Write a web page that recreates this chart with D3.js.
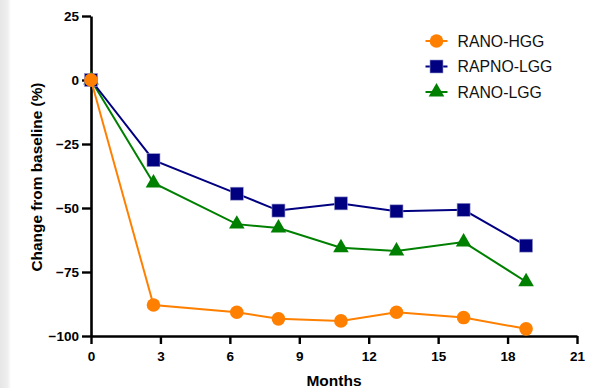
<!DOCTYPE html>
<html>
<head>
<meta charset="utf-8">
<script src="https://cdn.jsdelivr.net/npm/d3@7"></script>
<style>
body{margin:0;background:#fff;}
svg{display:block;font-family:"Liberation Sans",Arial,Helvetica,sans-serif;}
</style>
</head>
<body>
<div id="chart"></div>
<script>
let width=598, height=388;
let months=[0,2.7,6.3,8.1,10.8,13.2,16.1,18.8];
let hgg=[0,-87.9,-90.7,-93.3,-94.1,-90.7,-92.8,-97.2];
let rapno=[0,-31.3,-44.4,-51,-48.2,-51.3,-50.7,-64.7];
let lgg=[0,-40.2,-56.3,-57.8,-65.5,-66.8,-63.3,-78.8];
let seriesNames=["RANO-HGG","RAPNO-LGG","RANO-LGG"];
let xTicks=[0,3,6,9,12,15,18,21];
let yTicks=[25,0,-25,-50,-75,-100];

let series=[
 {name:seriesNames[2],vals:lgg,color:"#008000",shape:"tri"},
 {name:seriesNames[1],vals:rapno,color:"#000080",shape:"sq"},
 {name:seriesNames[0],vals:hgg,color:"#ff8000",shape:"circ"}
];

let svg=d3.select("#chart").append("svg").attr("width",width).attr("height",height);

// faint grey strip at the left edge
let grad=svg.append("defs").append("linearGradient").attr("id","edge");
grad.append("stop").attr("offset","0%").attr("stop-color","#e6e6e6");
grad.append("stop").attr("offset","70%").attr("stop-color","#efefef");
grad.append("stop").attr("offset","100%").attr("stop-color","#fff");
svg.append("rect").attr("x",0).attr("y",0).attr("width",11).attr("height",height).attr("fill","url(#edge)");

let x=d3.scaleLinear().domain([0,21]).range([91,577]);
let y=d3.scaleLinear().domain([-100,25]).range([336,16]);

let xAxis=svg.append("g").attr("transform","translate(0,336)")
 .call(d3.axisBottom(x).tickValues(xTicks).tickSize(8).tickPadding(4).tickSizeOuter(0));
let yAxis=svg.append("g").attr("transform","translate(91,0)")
 .call(d3.axisLeft(y).tickValues(yTicks).tickSize(9).tickPadding(3).tickSizeOuter(0));
[xAxis,yAxis].forEach(a=>{
 a.select(".domain").attr("stroke","#000").attr("stroke-width",2.6);
 a.selectAll(".tick line").attr("stroke","#000").attr("stroke-width",2.4);
 a.selectAll(".tick text").attr("fill","#000").attr("font-size",13.5).attr("font-weight","bold")
  .attr("font-family","'Liberation Sans',Arial,sans-serif");
});
xAxis.selectAll(".tick text").attr("dy","0.95em");

svg.append("text").text("Months").attr("x",x(10.5)).attr("y",386)
 .attr("text-anchor","middle").attr("font-size",15.5).attr("font-weight","bold");
svg.append("text").text("Change from baseline (%)")
 .attr("transform","translate(42,177) rotate(-90)")
 .attr("text-anchor","middle").attr("font-size",15.4).attr("font-weight","bold");

function marker(g,shape,color){
 if(shape=="circ") g.append("circle").attr("r",6.8).attr("fill",color);
 else if(shape=="sq") g.append("rect").attr("x",-6.5).attr("y",-6.5).attr("width",13).attr("height",13).attr("fill",color)
   .attr("stroke","#9a9acc").attr("stroke-width",0.6);
 else g.append("path").attr("d",d3.symbol(d3.symbolTriangle,105)()).attr("fill",color);
}

let line=d3.line().x((d,i)=>x(months[i])).y(d=>y(d));
series.forEach(s=>{
 let g=svg.append("g");
 g.append("path").datum(s.vals).attr("d",line).attr("fill","none").attr("stroke",s.color).attr("stroke-width",2);
 s.vals.forEach((v,i)=>{
  let m=g.append("g").attr("transform","translate("+x(months[i])+","+y(v)+")");
  marker(m,s.shape,s.color);
 });
});

// legend
let legendOrder=[series[2],series[1],series[0]];
legendOrder.forEach((s,i)=>{
 let ly=41+i*25.5;
 let g=svg.append("g").attr("transform","translate(436.5,"+ly+")");
 g.append("line").attr("x1",-11).attr("x2",11).attr("stroke",s.color).attr("stroke-width",2);
 marker(g,s.shape,s.color);
 svg.append("text").text(s.name).attr("x",457.5).attr("y",ly).attr("dy","0.36em")
  .attr("font-size",15.8).attr("fill","#111");
});
</script>
</body>
</html>
